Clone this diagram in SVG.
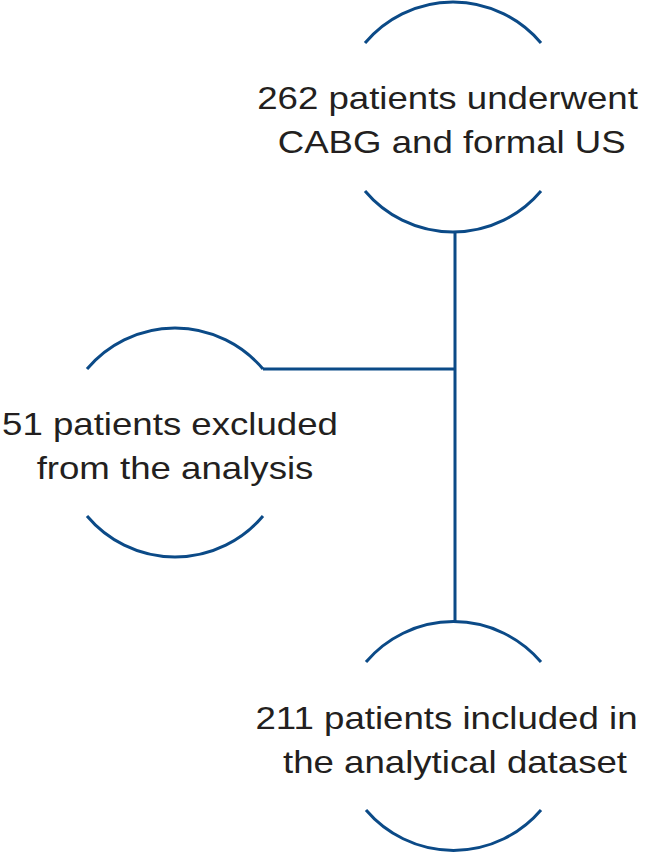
<svg xmlns="http://www.w3.org/2000/svg" width="654" height="854" viewBox="0 0 654 854">
<style>
.arc{fill:none;stroke:#0b4a87;stroke-width:3}
.edge{fill:none;stroke:#0b4a87;stroke-width:3}
.lbl{font-family:"Liberation Sans",Arial,sans-serif;font-size:32px;fill:#231f20;text-anchor:middle}
</style>
<rect width="654" height="854" fill="#ffffff"/>
<g id="connectors">
<path class="edge" d="M455,232 V621"/>
<path class="edge" d="M263,369 H455"/>
</g>
<g id="node-total">
<path class="arc" d="M365,43 A115,115 0 0 1 541,43"/>
<path class="arc" d="M365,191 A115,115 0 0 0 541,191"/>
<text class="lbl" transform="translate(447.5,109.3) scale(1.145,1)">262 patients underwent</text>
<text class="lbl" transform="translate(451.7,153.3) scale(1.145,1)">CABG and formal US</text>
</g>
<g id="node-excluded">
<path class="arc" d="M87,369 A115,115 0 0 1 263,369"/>
<path class="arc" d="M87,516 A115,115 0 0 0 263,516"/>
<text class="lbl" transform="translate(170,434.5) scale(1.145,1)">51 patients excluded</text>
<text class="lbl" transform="translate(175,478.5) scale(1.145,1)">from the analysis</text>
</g>
<g id="node-included">
<path class="arc" d="M366,662 A115,115 0 0 1 541,662"/>
<path class="arc" d="M366,810 A115,115 0 0 0 541,810"/>
<text class="lbl" transform="translate(446.5,729.3) scale(1.145,1)">211 patients included in</text>
<text class="lbl" transform="translate(455,772.8) scale(1.145,1)">the analytical dataset</text>
</g>
</svg>
